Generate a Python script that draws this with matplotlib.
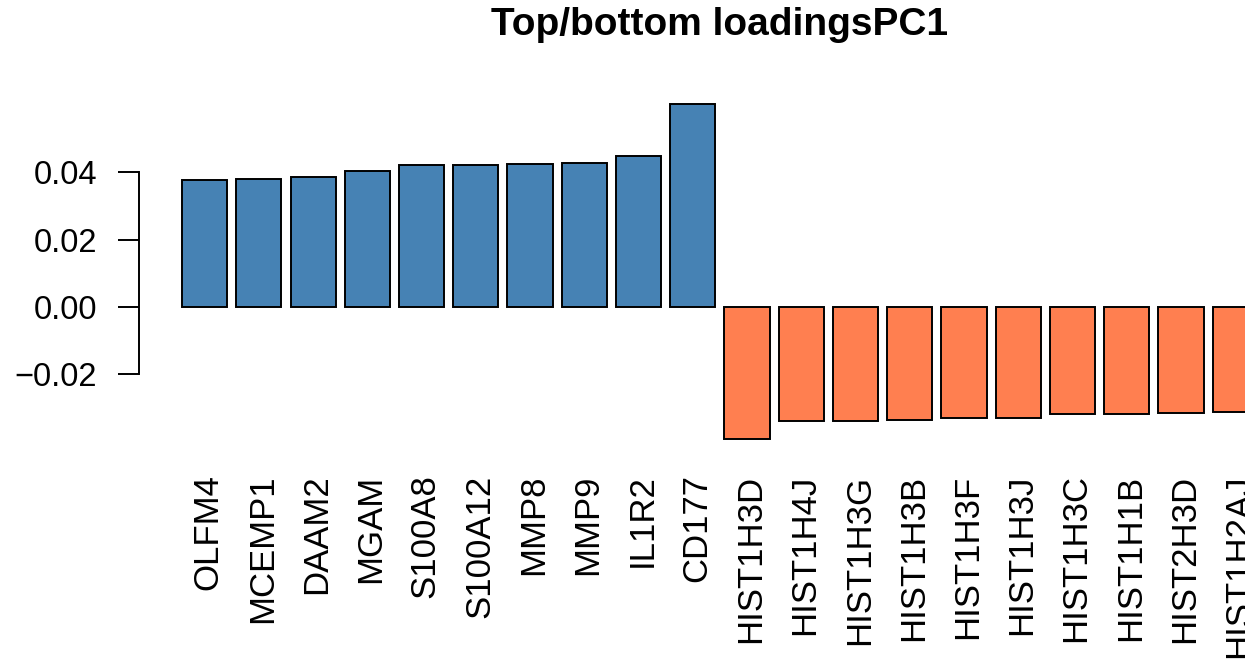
import numpy as np
import matplotlib
matplotlib.use("Agg")
from matplotlib import pyplot as plt

# loadings
genes_top = ["OLFM4", "MCEMP1", "DAAM2", "MGAM", "S100A8", "S100A12",
             "MMP8", "MMP9", "IL1R2", "CD177"]
load_top = [0.0378, 0.0381, 0.0385, 0.0404, 0.0421, 0.0422,
            0.0426, 0.0429, 0.0449, 0.0603]
genes_bottom = ["HIST1H3D", "HIST1H4J", "HIST1H3G", "HIST1H3B", "HIST1H3F",
                "HIST1H3J", "HIST1H3C", "HIST1H1B", "HIST2H3D", "HIST1H2AJ"]
load_bottom = [-0.0393, -0.0339, -0.0339, -0.0337, -0.0332,
               -0.0332, -0.0320, -0.0318, -0.0317, -0.0313]

plt.rcParams['font.family'] = ['Liberation Sans', 'DejaVu Sans']

genes = genes_top + genes_bottom
vals = load_top + load_bottom
cols = ["steelblue"] * len(load_top) + ["coral"] * len(load_bottom)

# R style barplot geometry: width 1, space 0.2
n = len(vals)
left = 0.2 + 1.2 * np.arange(n)
centers = left + 0.5

fig = plt.figure(figsize=(12.45, 6.6), dpi=100)
# the plot region runs past the right edge, as in the reference
ax = fig.add_axes([139 / 1245, 0.3148, 0.9332, 0.5478])

ax.bar(left, vals, width=1.0, align='edge', color=cols,
       edgecolor='black', linewidth=1.4)

# 4% extension like R
x0, x1 = 0.2, left[-1] + 1.0
xr = x1 - x0
ax.set_xlim(x0 - 0.04 * xr, x1 + 0.04 * xr)
y0, y1 = min(min(vals), 0), max(max(vals), 0)
yr = y1 - y0
ax.set_ylim(y0 - 0.04 * yr, y1 + 0.04 * yr)

for s in ['top', 'right', 'bottom']:
    ax.spines[s].set_visible(False)
ax.spines['left'].set_bounds(-0.02, 0.04)
ax.spines['left'].set_linewidth(1.4)

yt = [-0.02, 0.0, 0.02, 0.04]
ax.set_yticks(yt)
ax.set_yticklabels(["\u22120.02", "0.00", "0.02", "0.04"])
ax.tick_params(axis='y', length=15, width=1.4, pad=15, labelsize=23.5)

ax.set_xticks(centers + 0.08)
ax.set_xticklabels(genes, rotation=90, fontsize=25)
ax.tick_params(axis='x', length=0, pad=16)

fig.text(0.578, 1 - 35 / 660, "Top/bottom loadingsPC1", ha='center',
         va='baseline', fontsize=28, fontweight='bold')

fig.savefig("out.png", dpi=100)
